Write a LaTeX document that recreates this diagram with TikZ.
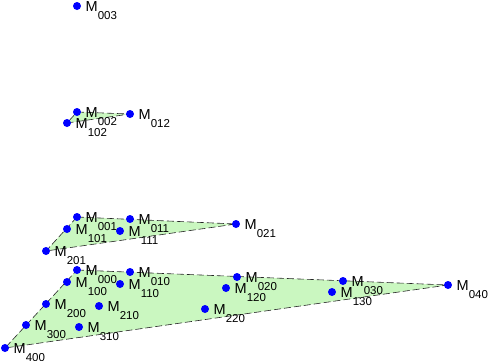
\documentclass[tikz,border=0pt]{standalone}
\usepackage{fontspec}
\setmainfont{Liberation Sans}
\definecolor{facegreen}{RGB}{150,240,130}
\newcommand\lbl[1]{\fontsize{14.5}{14}\selectfont M\raisebox{-8.5pt}{\fontsize{11.5}{12}\selectfont #1}}
\begin{document}
\begin{tikzpicture}[x=1pt,y=-1pt,
  ctrl/.style={circle,fill=blue,inner sep=0pt,minimum size=8pt},
  lab/.style={anchor=base west,inner sep=0pt,text=black},
  face/.style={fill=facegreen,fill opacity=0.5,draw=none},
  edge/.style={draw=black!85,line width=0.6pt,dash pattern=on 7pt off 3pt}]
\useasboundingbox (0,0) rectangle (491,360);
% control point positions
\foreach \n/\x/\y in {003/77/6, 002/77/112, 012/130/114, 102/67/123,
  001/77/217, 011/130/219, 021/236/224, 101/67/229, 111/120/231, 201/46/251,
  000/77/270, 010/130/272, 020/237/277, 030/343/281, 040/448/285,
  100/67/282, 110/120/284, 120/226/288, 130/332/292,
  200/46/304, 210/99/306, 220/205/309,
  300/26/325, 310/79/327, 400/5/348}
  {\coordinate (P\n) at (\x,\y);}
% faces
\fill[face] (P002) -- (P012) -- (P102) -- cycle;
\fill[face] (P001) -- (P021) -- (P201) -- cycle;
\fill[face] (P000) -- (P040) -- (P400) -- cycle;
% edges
\draw[edge] (P002) -- (P012) -- (P102) -- cycle;
\draw[edge] (P001) -- (P021) -- (P201) -- cycle;
\draw[edge] (P000) -- (P040) -- (P400) -- cycle;
% dots
\foreach \n in {003,002,012,102,001,011,021,101,111,201,000,010,020,030,040,100,110,120,130,200,210,220,300,310,400}
  {\node[ctrl] (D\n) at (P\n) {};}
% labels
\foreach \n in {003,002,012,102,001,011,021,101,111,201,000,010,020,030,040,100,110,120,130,200,210,220,300,310,400}
  {\node[lab] (L\n) at ([shift={(8.5,5)}]P\n) {\lbl{\n}};}
\end{tikzpicture}
\end{document}
